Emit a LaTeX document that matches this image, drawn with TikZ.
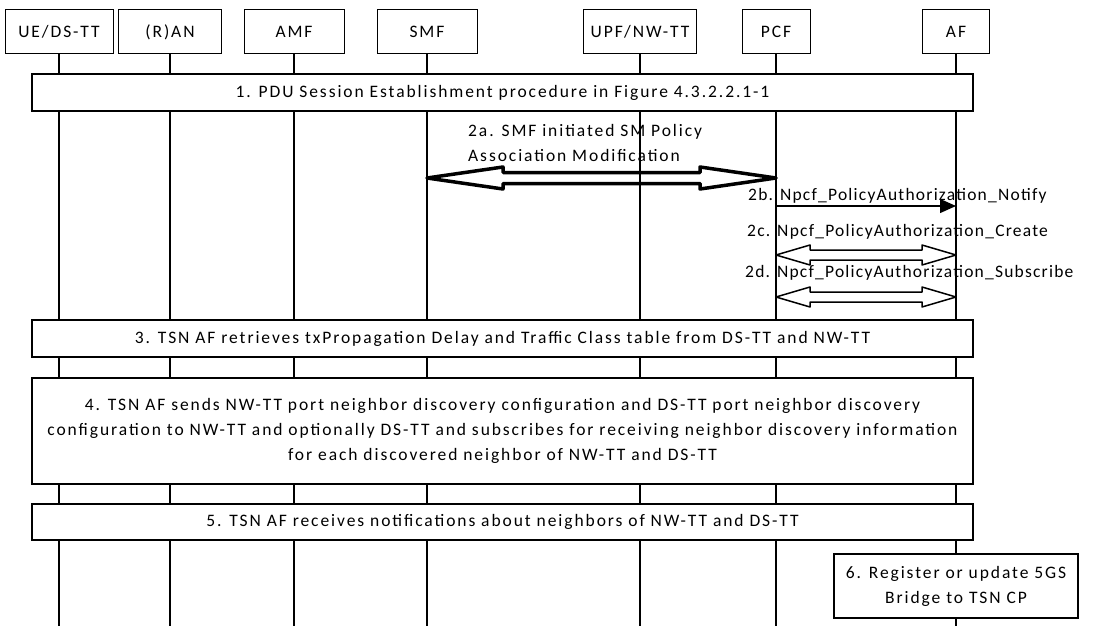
\documentclass[tikz,border=0pt]{standalone}
\usepackage{fontspec}
\setmainfont{Carlito}[LetterSpace=11]
\usetikzlibrary{arrows.meta,calc}

% outlined double-headed arrow: [style]{start}{end}{head length}{head half}{shaft half}
\newcommand{\dblarr}[6][]{%
  \draw[#1] (#2) -- ++(#4,-#5) -- ++(0,#5-#6) -- ($(#3)+(-#4,-#6)$) -- ++(0,#6-#5)
    -- (#3) -- ++(-#4,#5) -- ++(0,#6-#5) -- ($(#2)+(#4,#6)$) -- ++(0,#5-#6) -- cycle;}

\begin{document}
\begin{tikzpicture}[x=1pt, y=-1pt,
  font=\fontsize{17.5}{25}\selectfont,
  hdr/.style={draw, line width=1pt, fill=white, minimum height=44, inner sep=2pt},
  life/.style={line width=1.8pt},
  stepbox/.style={draw, line width=1.2pt, fill=white, minimum width=941, align=center},
  msg/.style={line width=1.3pt, -{Triangle[length=16pt,width=14pt]}},
  fat/.style={line width=3.5pt, line join=round},
  slim/.style={line width=1.5pt, line join=round},
  lbl/.style={anchor=west, align=left, inner sep=0pt},
  msglbl/.style={lbl, font=\fontsize{17.5}{25}\selectfont\addfontfeature{LetterSpace=7}}]

  \useasboundingbox (0,0) rectangle (1093,626);
  \coordinate (bot) at (0,626);

  % lifeline heads
  \node[hdr, minimum width=108] (ue)  at (59,32)  {UE/DS-TT};
  \node[hdr, minimum width=103] (ran) at (170,32) {(R)AN};
  \node[hdr, minimum width=100] (amf) at (294,32) {AMF};
  \node[hdr, minimum width=100] (smf) at (427,32) {SMF};
  \node[hdr, minimum width=113] (upf) at (640,32) {UPF/NW-TT};
  \node[hdr, minimum width=68]  (pcf) at (776,32) {PCF};
  \node[hdr, minimum width=67]  (af)  at (956,32) {AF};

  % lifelines
  \foreach \n in {ue,ran,amf,smf,upf,pcf,af}
    \draw[life] (\n.south) -- (\n |- bot);

  % step 1
  \node[stepbox, minimum height=37] (s1) at (502.5,92.5)
    {1. PDU Session Establishment procedure in Figure 4.3.2.2.1-1};

  % step 2a
  \node[lbl] (l2a) at (468,142.5) {2a. SMF initiated SM Policy\\Association Modification};
  \coordinate (a2s) at (smf |- 0,178);
  \coordinate (a2e) at (pcf |- 0,178);
  \dblarr[fat]{a2s}{a2e}{76}{11}{5.5}

  % steps 2b-2d
  \node[msglbl] (l2b) at (748,196) {2b. Npcf\_PolicyAuthorization\_Notify};
  \coordinate (b2s) at (pcf |- 0,206);
  \coordinate (b2e) at (af |- 0,206);
  \draw[msg] (b2s) -- (b2e);

  \node[msglbl] (l2c) at (747,232) {2c. Npcf\_PolicyAuthorization\_Create};
  \coordinate (c2s) at (pcf |- 0,255);
  \coordinate (c2e) at (af |- 0,255);
  \dblarr[slim]{c2s}{c2e}{34}{10}{5}

  \node[msglbl] (l2d) at (745,273) {2d. Npcf\_PolicyAuthorization\_Subscribe};
  \coordinate (d2s) at (pcf |- 0,297);
  \coordinate (d2e) at (af |- 0,297);
  \dblarr[slim]{d2s}{d2e}{34}{10}{5}

  % steps 3-6
  \node[stepbox, minimum height=37] (s3) at (502.5,338.5)
    {3. TSN AF retrieves txPropagation Delay and Traffic Class table from DS-TT and NW-TT};
  \node[stepbox, minimum height=106] (s4) at (502.5,431)
    {4. TSN AF sends NW-TT port neighbor discovery configuration and DS-TT port neighbor discovery\\
     configuration to NW-TT and optionally DS-TT and subscribes for receiving neighbor discovery information\\
     for each discovered neighbor of NW-TT and DS-TT};
  \node[stepbox, minimum height=36] (s5) at (502.5,522)
    {5. TSN AF receives notifications about neighbors of NW-TT and DS-TT};
  \node[stepbox, minimum width=244, minimum height=64] (s6) at (956,586)
    {6. Register or update 5GS\\Bridge to TSN CP};
\end{tikzpicture}
\end{document}
